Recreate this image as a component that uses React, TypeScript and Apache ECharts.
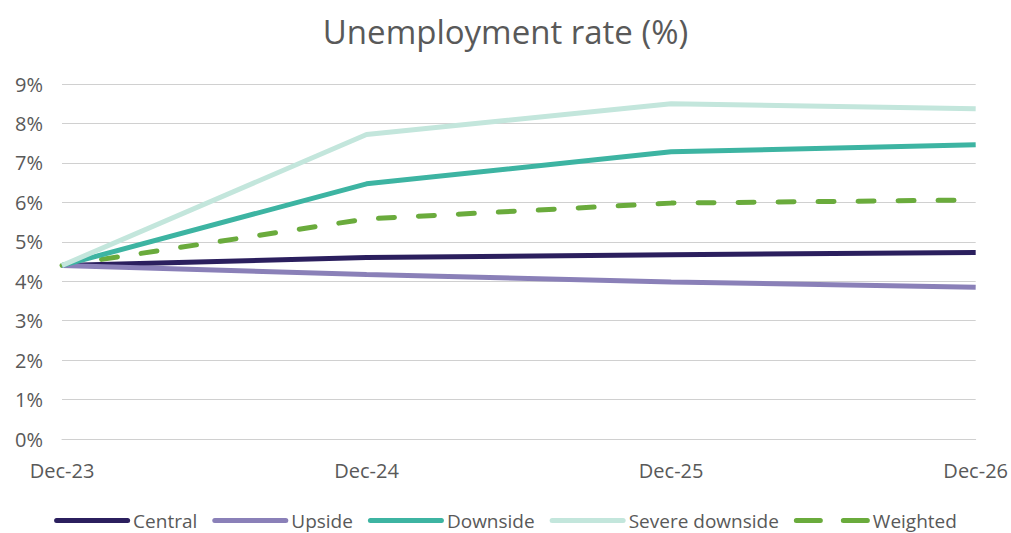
import React, { useEffect, useRef } from "react";
import * as echarts from "echarts";

const categories = ["Dec-23", "Dec-24", "Dec-25", "Dec-26"];
const central = [4.4, 4.6, 4.67, 4.73];
const upside = [4.4, 4.17, 3.98, 3.85];
const downside = [4.4, 6.47, 7.28, 7.46];
const severeDownside = [4.4, 7.72, 8.5, 8.37];
const weighted = [4.4, 5.58, 5.98, 6.06];
const yTicks = [0, 1, 2, 3, 4, 5, 6, 7, 8, 9];

const seriesDefs = [
  { name: "Central", data: central, color: "#2b1f5e", dashed: false },
  { name: "Upside", data: upside, color: "#8a80b8", dashed: false },
  { name: "Downside", data: downside, color: "#3db4a2", dashed: false },
  { name: "Severe downside", data: severeDownside, color: "#c3e6dc", dashed: false },
  { name: "Weighted", data: weighted, color: "#6aab3c", dashed: true },
];

const SOLID_ICON = "path://M2.5,0H73.5A2.5,2.5,0,0,1,73.5,5H2.5A2.5,2.5,0,0,1,2.5,0Z";
const DASH_ICON =
  "path://M2.5,0H26.5A2.5,2.5,0,0,1,26.5,5H2.5A2.5,2.5,0,0,1,2.5,0Z M49.5,0H73.5A2.5,2.5,0,0,1,73.5,5H49.5A2.5,2.5,0,0,1,49.5,0Z";

export default function App() {
  const ref = useRef<HTMLDivElement>(null);
  useEffect(() => {
    if (!ref.current) return;
    const chart = echarts.init(ref.current, undefined, { renderer: "svg" });
    chart.setOption({
      animation: false,
      backgroundColor: "#ffffff",
      title: {
        text: "Unemployment rate (%)",
        left: "center",
        top: 10,
        textStyle: { fontFamily: "Open Sans", fontSize: 33, fontWeight: "normal", color: "#595959" },
      },
      grid: { left: 62, right: 35, top: 84, bottom: 94, containLabel: false },
      xAxis: {
        type: "category",
        data: categories,
        boundaryGap: false,
        axisLine: { show: true, lineStyle: { color: "#d0d0d0", width: 1 } },
        axisTick: { show: false },
        axisLabel: { color: "#595959", fontFamily: "Open Sans", fontSize: 20, margin: 21 },
      },
      yAxis: {
        type: "value",
        min: yTicks[0],
        max: yTicks[yTicks.length - 1],
        interval: 1,
        axisLine: { show: false },
        axisTick: { show: false },
        splitLine: { lineStyle: { color: "#d0d0d0", width: 1 } },
        axisLabel: { color: "#595959", fontFamily: "Open Sans", fontSize: 20, margin: 19, formatter: "{value}%" },
      },
      legend: {
        bottom: -2,
        left: "center",
        itemWidth: 76,
        itemHeight: 5,
        itemGap: 15,
        itemStyle: { borderWidth: 0 },
        textStyle: { color: "#595959", fontFamily: "Open Sans", fontSize: 19, padding: [0, 0, 0, -2] },
        data: seriesDefs.map((s) => ({ name: s.name, icon: s.dashed ? DASH_ICON : SOLID_ICON })),
      },
      series: seriesDefs.map((s) => ({
        name: s.name,
        type: "line",
        data: s.data,
        symbol: "none",
        showSymbol: false,
        color: s.color,
        itemStyle: { color: s.color },
        lineStyle: {
          color: s.color,
          width: 5,
          type: s.dashed ? [16, 24] : "solid",
          cap: s.dashed ? "round" : "butt",
        },
        z: s.name === "Weighted" ? 1 : 2,
      })),
    });
    return () => chart.dispose();
  }, []);
  return <div ref={ref} style={{ position: "fixed", left: 0, top: 0, width: 1011, height: 533 }} />;
}
